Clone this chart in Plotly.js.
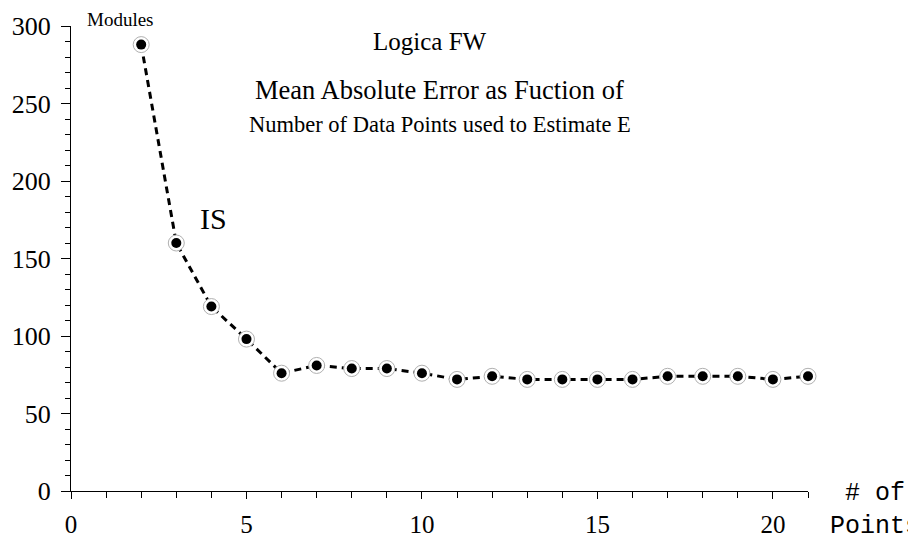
<!DOCTYPE html>
<html>
<head>
<meta charset="utf-8">
<script src="https://cdn.plot.ly/plotly-3.0.1.min.js"></script>
<style>html,body{margin:0;padding:0;background:#fff;}#chart{width:908px;height:539px;}</style>
</head>
<body>
<div id="chart"></div>
<script>
const numPoints = [2,3,4,5,6,7,8,9,10,11,12,13,14,15,16,17,18,19,20,21];
const meanAbsError = [288,160,119,98,76,81,79,79,76,72,74,72,72,72,72,74,74,74,72,74];
const xTickVals = [0,5,10,15,20];
const yTickVals = [0,50,100,150,200,250,300];
const titleLine1 = "Logica FW";
const titleLine2 = "Mean Absolute Error as Fuction of";
const titleLine3 = "Number of Data Points used to Estimate E";
const yLabel = "Modules";
const seriesLabel = "IS";
const xLabel = "# of<br>Points";

const serif = "Liberation Serif";
const mono = "Liberation Mono";

const traces = [
  {x: numPoints, y: meanAbsError, mode: 'lines', type: 'scatter',
   line: {color: '#000', width: 3, dash: '7px,5px'}, cliponaxis: false, hoverinfo: 'skip'},
  {x: numPoints, y: meanAbsError, mode: 'markers', type: 'scatter',
   marker: {size: 16, color: '#fff', line: {color: '#b0b0b0', width: 1}}, cliponaxis: false},
  {x: numPoints, y: meanAbsError, mode: 'markers', type: 'scatter',
   marker: {size: 10, color: '#000'}, cliponaxis: false}
];

const layout = {
  width: 908, height: 539,
  margin: {l: 71, r: 100, t: 26, b: 48},
  paper_bgcolor: '#fff', plot_bgcolor: '#fff',
  showlegend: false,
  font: {family: serif, size: 25, color: '#000'},
  xaxis: {
    range: [0, 21], showgrid: false, zeroline: false,
    showline: true, linecolor: '#000', linewidth: 1,
    tickmode: 'array', tickvals: xTickVals, ticktext: xTickVals.map(String),
    ticks: 'outside', ticklen: 7, tickcolor: '#000', tickwidth: 1,
    ticklabelstandoff: 4,
    minor: {dtick: 1, ticks: 'outside', ticklen: 6, tickcolor: '#000', tickwidth: 1},
    tickfont: {family: serif, size: 25, color: '#000'}
  },
  yaxis: {
    range: [0, 300], showgrid: false, zeroline: false,
    showline: true, linecolor: '#000', linewidth: 1,
    tickmode: 'array', tickvals: yTickVals, ticktext: yTickVals.map(String),
    ticks: 'outside', ticklen: 9, tickcolor: '#000', tickwidth: 1,
    ticklabelstandoff: 5,
    minor: {dtick: 10, ticks: 'outside', ticklen: 5, tickcolor: '#000', tickwidth: 1},
    tickfont: {family: serif, size: 26, color: '#000'}
  },
  annotations: [
    {xref: 'paper', yref: 'paper', x: 0.487, y: 0.966, text: titleLine1, showarrow: false,
     xanchor: 'center', yanchor: 'middle', font: {family: serif, size: 25, color: '#000'}},
    {xref: 'paper', yref: 'paper', x: 0.5, y: 0.862, text: titleLine2, showarrow: false,
     xanchor: 'center', yanchor: 'middle', font: {family: serif, size: 26.5, color: '#000'}},
    {xref: 'paper', yref: 'paper', x: 0.5, y: 0.789, text: titleLine3, showarrow: false,
     xanchor: 'center', yanchor: 'middle', font: {family: serif, size: 22.5, color: '#000'}},
    {xref: 'paper', yref: 'paper', x: 0.0665, y: 1.013, text: yLabel, showarrow: false,
     xanchor: 'center', yanchor: 'middle', font: {family: serif, size: 19, color: '#000'}},
    {xref: 'paper', yref: 'paper', x: 0.194, y: 0.585, text: seriesLabel, showarrow: false,
     xanchor: 'center', yanchor: 'middle', font: {family: serif, size: 30, color: '#000'}},
    {xref: 'paper', yref: 'paper', x: 1.091, y: -0.041, text: xLabel, showarrow: false,
     xanchor: 'center', yanchor: 'middle', align: 'center', font: {family: mono, size: 25, color: '#000'}}
  ]
};

Plotly.newPlot('chart', traces, layout, {staticPlot: true, displayModeBar: false});
</script>
</body>
</html>
